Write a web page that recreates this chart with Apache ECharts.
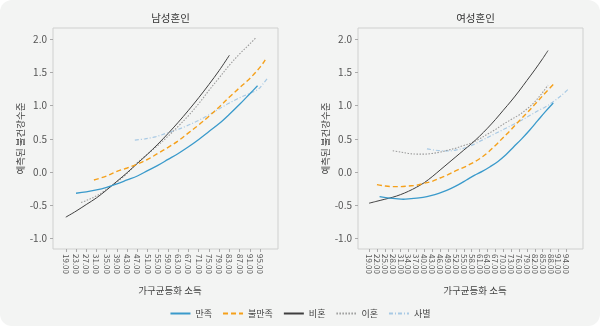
<!DOCTYPE html>
<html>
<head>
<meta charset="utf-8">
<script src="https://cdn.jsdelivr.net/npm/echarts@6/dist/echarts.min.js"></script>
<style>
  html, body { margin: 0; padding: 0; background: #ffffff; }
  #chart { width: 600px; height: 326px; }
</style>
</head>
<body>
<div id="chart"></div>
<script>
// 예측된 불건강수준 by 가구균등화 소득, split into 남성혼인 / 여성혼인 panels

const seriesNames = ['만족', '불만족', '비혼', '이혼', '사별'];
const panelTitles = ['남성혼인', '여성혼인'];

// tick labels
const maleTicks = [19, 23, 27, 31, 35, 39, 43, 47, 51, 55, 59, 63, 67, 71, 75, 79, 83, 87, 91, 95];
const femaleTicks = [19, 22, 25, 28, 31, 34, 37, 40, 43, 46, 49, 52, 55, 58, 61, 64, 67, 70, 73, 76, 79, 82, 85, 88, 91, 94];
const yTicks = [-1.0, -0.5, 0.0, 0.5, 1.0, 1.5, 2.0];

// 남성혼인
const mSatX = [23, 27, 31, 35, 39, 43, 47, 51, 55, 59, 63, 67, 71, 75, 79, 83, 87, 91, 94];
const mSatY = [-0.32, -0.30, -0.27, -0.23, -0.18, -0.12, -0.06, 0.02, 0.10, 0.19, 0.28, 0.38, 0.49, 0.61, 0.73, 0.87, 1.02, 1.18, 1.30];
const mDisX = [30, 35, 39, 43, 47, 51, 55, 59, 63, 67, 71, 75, 79, 83, 87, 91, 95, 97];
const mDisY = [-0.12, -0.06, 0.01, 0.06, 0.12, 0.19, 0.28, 0.37, 0.47, 0.59, 0.71, 0.84, 0.98, 1.13, 1.27, 1.41, 1.58, 1.69];
const mSingleX = [19, 23, 27, 31, 35, 39, 43, 47, 51, 55, 59, 63, 67, 71, 75, 79, 83];
const mSingleY = [-0.68, -0.59, -0.49, -0.39, -0.27, -0.14, -0.01, 0.13, 0.27, 0.42, 0.58, 0.75, 0.93, 1.12, 1.32, 1.53, 1.76];
const mDivX = [25, 27, 31, 35, 39, 43, 47, 51, 55, 59, 63, 67, 71, 75, 79, 83, 87, 91, 93.5];
const mDivY = [-0.46, -0.43, -0.36, -0.26, -0.15, -0.02, 0.14, 0.27, 0.40, 0.54, 0.69, 0.85, 1.03, 1.23, 1.42, 1.61, 1.78, 1.93, 2.03];
const mWidX = [46, 50, 54, 58, 62, 66, 70, 74, 78, 82, 86, 90, 94, 96, 98];
const mWidY = [0.48, 0.50, 0.53, 0.58, 0.63, 0.69, 0.76, 0.84, 0.93, 1.02, 1.10, 1.17, 1.24, 1.32, 1.42];

// 여성혼인
const fSatX = [23, 26, 29, 32, 35, 38, 41, 44, 47, 50, 53, 56, 59, 62, 65, 68, 71, 74, 77, 80, 83, 86, 89];
const fSatY = [-0.37, -0.39, -0.40, -0.41, -0.40, -0.39, -0.37, -0.34, -0.30, -0.25, -0.19, -0.12, -0.05, 0.01, 0.08, 0.16, 0.26, 0.38, 0.50, 0.63, 0.77, 0.91, 1.04];
const fDisX = [22, 25, 28, 31, 34, 37, 40, 43, 46, 49, 52, 55, 58, 61, 64, 67, 70, 73, 76, 79, 82, 85, 89];
const fDisY = [-0.19, -0.21, -0.22, -0.22, -0.21, -0.20, -0.17, -0.14, -0.09, -0.04, 0.02, 0.07, 0.13, 0.20, 0.29, 0.40, 0.52, 0.64, 0.77, 0.89, 1.02, 1.15, 1.32];
const fSingleX = [19, 22, 25, 28, 31, 34, 37, 40, 43, 46, 49, 52, 55, 58, 61, 64, 67, 70, 73, 76, 79, 82, 85, 87];
const fSingleY = [-0.47, -0.44, -0.41, -0.38, -0.34, -0.29, -0.23, -0.16, -0.07, 0.03, 0.13, 0.23, 0.33, 0.43, 0.54, 0.66, 0.79, 0.93, 1.07, 1.22, 1.38, 1.54, 1.71, 1.83];
const fDivX = [28, 31, 34, 37, 40, 43, 46, 49, 52, 55, 58, 61, 64, 67, 70, 73, 76, 79, 82, 85, 87];
const fDivY = [0.32, 0.30, 0.28, 0.27, 0.27, 0.28, 0.30, 0.33, 0.36, 0.40, 0.44, 0.50, 0.57, 0.64, 0.72, 0.79, 0.86, 0.95, 1.06, 1.20, 1.31];
const fWidX = [41, 44, 47, 50, 53, 56, 59, 62, 65, 68, 71, 74, 77, 80, 83, 86, 89, 92, 95];
const fWidY = [0.35, 0.33, 0.32, 0.32, 0.34, 0.37, 0.42, 0.48, 0.54, 0.60, 0.66, 0.72, 0.78, 0.85, 0.92, 0.98, 1.06, 1.15, 1.26];

const FONT = '"Noto Sans CJK KR", "Noto Sans", sans-serif';
const colors = ['#3a9acb', '#f5a01a', '#3f3f3f', '#9b9b9b', '#a8c9e4'];
const lineStyles = [
  { width: 1.3, type: 'solid' },
  { width: 1.4, type: [5, 3] },
  { width: 1.0, type: 'solid' },
  { width: 1.1, type: [1.5, 1.5] },
  { width: 1.2, type: [4, 2, 1, 2] }
];

const pair = (xs, ys) => xs.map((x, i) => [x, ys[i]]);
const panels = [
  [pair(mSatX, mSatY), pair(mDisX, mDisY), pair(mSingleX, mSingleY), pair(mDivX, mDivY), pair(mWidX, mWidY)],
  [pair(fSatX, fSatY), pair(fDisX, fDisY), pair(fSingleX, fSingleY), pair(fDivX, fDivY), pair(fWidX, fWidY)]
];

const grids = [
  { left: 53, top: 28, width: 225, height: 221 },
  { left: 358, top: 28, width: 225, height: 221 }
];
const xRanges = [[14, 102], [14.8, 100.3]];
const xTicks = [maleTicks, femaleTicks];

const series = [];
panels.forEach((panel, g) => {
  panel.forEach((data, s) => {
    series.push({
      name: seriesNames[s],
      type: 'line',
      xAxisIndex: g,
      yAxisIndex: g,
      data: data,
      smooth: 0.35,
      symbol: 'none',
      color: colors[s],
      lineStyle: Object.assign({ color: colors[s] }, lineStyles[s]),
      z: 10 - s
    });
  });
});

const chart = echarts.init(document.getElementById('chart'), null, { renderer: 'canvas' });
chart.setOption({
  backgroundColor: '#ffffff',
  animation: false,
  textStyle: { fontFamily: FONT },
  graphic: [{
    type: 'rect',
    left: 0, top: 0, z: -10,
    shape: { x: 0, y: 0, width: 600, height: 326, r: 12 },
    style: { fill: '#f3f4f3' }
  }],
  title: panelTitles.map((t, i) => ({
    text: t,
    left: grids[i].left + grids[i].width / 2,
    textAlign: 'center',
    top: 8,
    textStyle: { fontSize: 10.5, fontWeight: 'normal', color: '#333', fontFamily: FONT }
  })),
  legend: {
    data: seriesNames,
    left: 'center',
    top: 304,
    itemWidth: 20,
    itemHeight: 10,
    itemGap: 10,
    itemStyle: { opacity: 0 },
    textStyle: { fontSize: 9, color: '#444', fontFamily: FONT }
  },
  grid: grids.map(g => Object.assign({ show: true, borderColor: '#cfd0cf', borderWidth: 1, backgroundColor: 'transparent' }, g)),
  xAxis: grids.map((g, i) => ({
    type: 'value',
    gridIndex: i,
    min: xRanges[i][0],
    max: xRanges[i][1],
    name: '가구균등화 소득',
    nameLocation: 'middle',
    nameGap: 37,
    nameTextStyle: { fontSize: 9.5, color: '#444', fontFamily: FONT, padding: [0, 0, 0, 9] },
    axisLine: { show: false, onZero: false },
    splitLine: { show: false },
    axisTick: { show: true, length: 3, customValues: xTicks[i], lineStyle: { color: '#aaa' } },
    axisLabel: {
      customValues: xTicks[i],
      rotate: -90,
      margin: 5,
      fontSize: 8,
      color: '#555',
      fontFamily: FONT,
      hideOverlap: false,
      showMinLabel: true,
      showMaxLabel: true,
      formatter: v => Number(v).toFixed(2)
    }
  })),
  yAxis: grids.map((g, i) => ({
    type: 'value',
    gridIndex: i,
    min: -1.16,
    max: 2.17,
    name: '예측된 불건강수준',
    nameLocation: 'middle',
    nameRotate: 90,
    nameGap: 28,
    nameTextStyle: { fontSize: 9.5, color: '#444', fontFamily: FONT },
    axisLine: { show: false, onZero: false },
    splitLine: { show: false },
    axisTick: { show: true, length: 3, customValues: yTicks, lineStyle: { color: '#aaa' } },
    axisLabel: {
      customValues: yTicks,
      margin: 6,
      fontSize: 10,
      color: '#555',
      fontFamily: FONT,
      formatter: v => Number(v).toFixed(1)
    }
  })),
  series: series
});
</script>
</body>
</html>
